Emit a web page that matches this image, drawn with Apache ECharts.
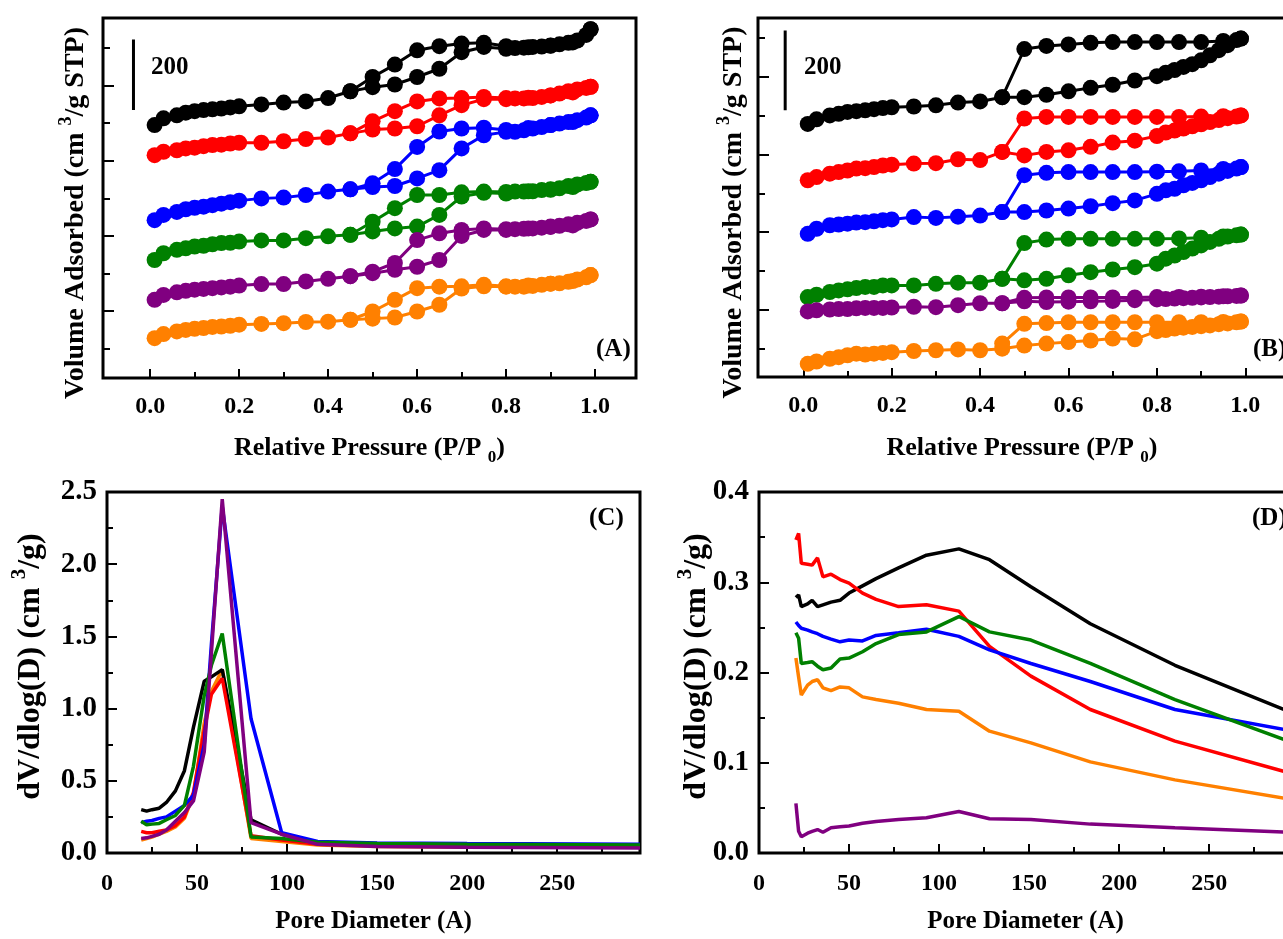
<!DOCTYPE html>
<html>
<head>
<meta charset="utf-8">
<script src="https://cdn.jsdelivr.net/npm/echarts@6/dist/echarts.min.js"></script>
<style>
html, body { margin: 0; padding: 0; background: #fff; }
#chart { width: 1283px; height: 939px; }
</style>
</head>
<body>
<div id="chart"></div>
<script>
var FONT = '"Liberation Serif", "Times New Roman", serif';
// sample order: black, red, blue, green, purple, orange
var COLORS = ['#000000', '#ff0000', '#0000ff', '#008000', '#800080', '#ff8000'];
var NAMES = ['S1', 'S2', 'S3', 'S4', 'S5', 'S6'];

// relative pressure of the isotherm points
var P_ADS = [0.01, 0.03, 0.06, 0.08, 0.10, 0.12, 0.14, 0.16, 0.18, 0.20, 0.25, 0.30, 0.35, 0.40,
  0.45, 0.50, 0.55, 0.60, 0.65, 0.70, 0.75, 0.80, 0.82, 0.84, 0.86, 0.88, 0.90, 0.92, 0.94, 0.96, 0.98, 0.99];
var P_DES = [0.99, 0.95, 0.90, 0.85, 0.80, 0.75, 0.70, 0.65, 0.60, 0.55, 0.50, 0.45];

// panel A, volume adsorbed (curves shifted for display)
var A_ADS = [
  [595, 613, 621, 628, 632, 635, 637, 639, 642, 645, 650, 655, 658, 667, 685, 696, 703, 723, 745, 789, 803, 798, 800, 801, 803, 804, 807, 810, 814, 820, 835, 850],
  [515, 524, 528, 533, 535, 539, 542, 543, 546, 548, 548, 552, 558, 562, 573, 583, 586, 592, 621, 648, 664, 664, 666, 666, 667, 670, 674, 679, 685, 690, 694, 697],
  [342, 356, 364, 371, 375, 378, 382, 386, 390, 394, 400, 402, 409, 418, 424, 430, 433, 453, 475, 533, 568, 577, 577, 581, 586, 590, 595, 599, 603, 608, 615, 621],
  [236, 254, 263, 267, 272, 274, 278, 281, 282, 285, 288, 288, 294, 299, 303, 312, 320, 325, 356, 405, 415, 413, 418, 418, 419, 422, 424, 427, 433, 437, 441, 444],
  [130, 143, 150, 154, 157, 159, 161, 163, 165, 168, 172, 172, 179, 186, 193, 201, 210, 218, 236, 300, 316, 316, 318, 319, 320, 322, 325, 327, 331, 335, 340, 344],
  [28, 39, 46, 50, 53, 55, 58, 59, 61, 64, 66, 68, 71, 72, 77, 80, 83, 99, 117, 160, 166, 165, 165, 165, 167, 170, 173, 174, 178, 184, 190, 196]
];
var A_DES = [
  [850, 815, 806, 802, 805, 814, 812, 805, 794, 756, 723, 685],
  [697, 682, 674, 668, 667, 670, 667, 666, 658, 632, 605, 573],
  [621, 603, 595, 587, 582, 588, 586, 578, 537, 478, 440, 424],
  [444, 430, 423, 419, 417, 418, 416, 409, 409, 374, 338, 303],
  [344, 328, 324, 320, 318, 320, 316, 307, 289, 228, 205, 193],
  [196, 180, 173, 168, 166, 170, 166, 165, 161, 130, 99, 77]
];

// panel B
var B_ADS = [
  [579, 591, 601, 605, 610, 612, 614, 617, 620, 622, 624, 627, 634, 637, 648, 648, 654, 663, 672, 680, 691, 702, 711, 718, 726, 733, 743, 756, 769, 782, 795, 799],
  [434, 442, 451, 455, 459, 464, 465, 468, 472, 474, 477, 478, 488, 486, 507, 498, 507, 511, 520, 531, 536, 548, 557, 562, 567, 573, 578, 584, 589, 594, 598, 601],
  [296, 309, 318, 320, 322, 325, 326, 328, 331, 333, 339, 337, 340, 343, 352, 352, 356, 361, 367, 375, 382, 399, 408, 412, 421, 427, 434, 442, 451, 458, 464, 468],
  [133, 139, 146, 150, 153, 156, 159, 159, 163, 163, 163, 167, 170, 170, 180, 176, 180, 189, 197, 204, 210, 219, 232, 240, 249, 258, 266, 275, 283, 289, 292, 294],
  [96, 99, 101, 102, 102, 104, 105, 105, 105, 106, 108, 107, 112, 117, 117, 122, 120, 121, 122, 123, 125, 127, 128, 129, 130, 131, 132, 133, 134, 135, 136, 137],
  [-39, -33, -26, -22, -17, -13, -15, -13, -11, -9, -6, -4, -2, -4, 0, 8, 13, 17, 21, 26, 24, 45, 48, 52, 54, 56, 58, 60, 63, 65, 68, 70]
];
var B_DES = [
  [799, 793, 790, 790, 790, 790, 790, 788, 784, 780, 772, 648],
  [601, 599, 598, 597, 597, 597, 597, 597, 597, 597, 593, 507],
  [468, 463, 459, 457, 456, 455, 455, 455, 455, 453, 447, 352],
  [294, 289, 286, 284, 283, 283, 283, 283, 283, 281, 272, 180],
  [137, 135, 134, 133, 133, 132, 132, 132, 132, 132, 131, 117],
  [70, 69, 68, 68, 68, 68, 68, 68, 68, 66, 64, 13]
];

// 200 cm3/g scale bars: [x, from, to]
var BAR_A = [-0.0375, 635, 823];
var BAR_B = [-0.041, 614, 820];

// panel C, pore size distribution
var C_X = [19, 22, 25, 29, 33, 38, 43, 48, 54, 58, 64, 80, 97, 117, 150, 200, 296];
var C_Y = [
  [0.30, 0.29, 0.30, 0.31, 0.35, 0.43, 0.57, 0.87, 1.19, 1.22, 1.27, 0.23, 0.13, 0.075, 0.06, 0.055, 0.05],
  [0.15, 0.14, 0.14, 0.15, 0.16, 0.19, 0.25, 0.42, 0.85, 1.10, 1.21, 0.12, 0.09, 0.06, 0.05, 0.045, 0.04],
  [0.21, 0.22, 0.225, 0.24, 0.25, 0.29, 0.33, 0.40, 0.75, 1.45, 2.40, 0.93, 0.14, 0.08, 0.07, 0.065, 0.06],
  [0.22, 0.195, 0.20, 0.205, 0.23, 0.26, 0.33, 0.60, 1.09, 1.30, 1.52, 0.11, 0.10, 0.075, 0.065, 0.06, 0.055],
  [0.10, 0.105, 0.115, 0.13, 0.16, 0.22, 0.28, 0.36, 0.70, 1.39, 2.45, 0.21, 0.13, 0.06, 0.045, 0.04, 0.035],
  [0.09, 0.10, 0.11, 0.13, 0.15, 0.18, 0.24, 0.40, 0.90, 1.12, 1.27, 0.10, 0.08, 0.055, 0.045, 0.04, 0.04]
];

// panel D
var D_X = [20.5, 22, 23.5, 27, 29.5, 32.5, 35.5, 40, 45, 50, 57.5, 65, 77.5, 93, 111, 128, 151, 184, 231, 294];
var D_Y = [
  [0.283, 0.286, 0.273, 0.276, 0.280, 0.273, 0.275, 0.278, 0.280, 0.288, 0.296, 0.304, 0.316, 0.330, 0.337, 0.325, 0.295, 0.254, 0.208, 0.157],
  [0.347, 0.354, 0.321, 0.320, 0.319, 0.327, 0.306, 0.309, 0.303, 0.299, 0.288, 0.281, 0.273, 0.275, 0.268, 0.229, 0.196, 0.159, 0.124, 0.089],
  [0.256, 0.252, 0.249, 0.247, 0.245, 0.243, 0.240, 0.237, 0.234, 0.236, 0.235, 0.241, 0.244, 0.248, 0.240, 0.225, 0.210, 0.190, 0.159, 0.136],
  [0.244, 0.238, 0.210, 0.211, 0.212, 0.207, 0.203, 0.205, 0.215, 0.216, 0.223, 0.232, 0.242, 0.245, 0.262, 0.245, 0.236, 0.210, 0.170, 0.124],
  [0.055, 0.024, 0.018, 0.022, 0.024, 0.026, 0.023, 0.028, 0.029, 0.030, 0.033, 0.035, 0.037, 0.039, 0.046, 0.038, 0.037, 0.032, 0.028, 0.023],
  [0.216, 0.195, 0.175, 0.186, 0.190, 0.192, 0.183, 0.180, 0.184, 0.183, 0.173, 0.170, 0.166, 0.159, 0.157, 0.135, 0.122, 0.101, 0.081, 0.060]
];

// tick positions
var ISO_X_MAJOR = [0, 0.2, 0.4, 0.6, 0.8, 1.0];
var ISO_X_MINOR = [0.1, 0.3, 0.5, 0.7, 0.9];
var ISO_Y_MAJOR = [100, 300, 500, 700];
var ISO_Y_MINOR = [0, 200, 400, 600, 800];
var PSD_X_MAJOR = [0, 50, 100, 150, 200, 250];
var PSD_X_MINOR = [25, 75, 125, 175, 225, 275];
var C_Y_MAJOR = [0, 0.5, 1.0, 1.5, 2.0, 2.5];
var C_Y_MINOR = [0.25, 0.75, 1.25, 1.75, 2.25];
var D_Y_MAJOR = [0, 0.1, 0.2, 0.3, 0.4];
var D_Y_MINOR = [0.05, 0.15, 0.25, 0.35];

var myChart = echarts.init(document.getElementById('chart'));

var grids = [
  {left: 103, top: 18, width: 533, height: 360},
  {left: 758, top: 18, width: 528, height: 359},
  {left: 107, top: 492, width: 533, height: 361},
  {left: 759, top: 492, width: 533, height: 361}
];
grids.forEach(function (g) {
  g.show = true;
  g.borderColor = '#000';
  g.borderWidth = 3;
  g.backgroundColor = 'transparent';
  g.outerBoundsMode = 'none';
  g.containLabel = false;
});

function nameStyle(size, pad) {
  var lh = Math.round(size * 1.35);
  var small = Math.round(size * 0.65);
  return {
    fontSize: size, fontWeight: 'bold', fontFamily: FONT, color: '#000', lineHeight: lh,
    padding: pad || 0,
    rich: {
      t: {fontSize: small, lineHeight: lh, verticalAlign: 'top', fontWeight: 'bold', fontFamily: FONT, color: '#000'},
      s: {fontSize: small, lineHeight: lh, verticalAlign: 'bottom', fontWeight: 'bold', fontFamily: FONT, color: '#000'}
    }
  };
}

// one axis with labelled (long) ticks and one overlaid axis for the short ticks
function axisPair(grid, pos, min, max, majors, minors, o) {
  var main = {
    type: 'value', gridIndex: grid, position: pos, min: min, max: max,
    axisLine: {show: false, onZero: false}, splitLine: {show: false},
    axisTick: {show: true, inside: true, length: o.majLen, customValues: majors, lineStyle: {color: '#000', width: 2}},
    axisLabel: {show: !!o.fmt, customValues: majors, formatter: o.fmt, margin: o.margin || 8,
      fontSize: o.labelSize || 24, fontWeight: 'bold', fontFamily: FONT, color: '#000'},
    name: o.name || '', nameLocation: 'middle', nameGap: o.gap || 20, nameMoveOverlap: false,
    nameTextStyle: nameStyle(o.nameSize || 25, o.pad)
  };
  var minor = {
    type: 'value', gridIndex: grid, position: pos, min: min, max: max,
    axisLine: {show: false, onZero: false}, splitLine: {show: false},
    axisTick: {show: true, inside: true, length: o.minLen, customValues: minors, lineStyle: {color: '#000', width: 2}},
    axisLabel: {show: false}
  };
  return [main, minor];
}

var f1 = function (v) { return v.toFixed(1); };
var f0 = function (v) { return String(Math.round(v)); };

var xAxes = [].concat(
  axisPair(0, 'bottom', -0.106, 1.092, ISO_X_MAJOR, ISO_X_MINOR, {majLen: 9, minLen: 6, fmt: f1, margin: 17, name: 'Relative Pressure (P/P {s|0})', gap: 53, nameSize: 26}),
  axisPair(1, 'bottom', -0.1025, 1.092, ISO_X_MAJOR, ISO_X_MINOR, {majLen: 9, minLen: 6, fmt: f1, margin: 17, name: 'Relative Pressure (P/P {s|0})', gap: 54, nameSize: 26}),
  axisPair(2, 'bottom', 0, 296, PSD_X_MAJOR, PSD_X_MINOR, {majLen: 9, minLen: 6, fmt: f0, margin: 19, name: 'Pore Diameter (A)', gap: 52, nameSize: 25}),
  axisPair(3, 'bottom', 0, 296, PSD_X_MAJOR, PSD_X_MINOR, {majLen: 9, minLen: 6, fmt: f0, margin: 19, name: 'Pore Diameter (A)', gap: 52, nameSize: 25})
);
var yAxes = [].concat(
  axisPair(0, 'left', -78, 880, ISO_Y_MAJOR, ISO_Y_MINOR, {majLen: 11, minLen: 7, name: 'Volume Adsorbed (cm {t|3}/g STP)', gap: 8, nameSize: 28, pad: [0, 30, 0, 0]}),
  axisPair(1, 'left', -73, 852, ISO_Y_MAJOR, ISO_Y_MINOR, {majLen: 11, minLen: 7, name: 'Volume Adsorbed (cm {t|3}/g STP)', gap: 5, nameSize: 28, pad: [0, 30, 0, 0]}),
  axisPair(2, 'left', 0, 2.5, C_Y_MAJOR, C_Y_MINOR, {majLen: 10, minLen: 6, fmt: f1, margin: 10, name: 'dV/dlog(D) (cm {t|3}/g)', gap: 55, nameSize: 32, labelSize: 29, pad: [0, 0, 0, 12]}),
  axisPair(3, 'left', 0, 0.4, D_Y_MAJOR, D_Y_MINOR, {majLen: 10, minLen: 6, fmt: f1, margin: 10, name: 'dV/dlog(D) (cm {t|3}/g)', gap: 41, nameSize: 32, labelSize: 29, pad: [0, 0, 0, 12]})
);

var series = [];
function isoBranch(axis, xs, ys, i, tag) {
  series.push({
    name: NAMES[i] + ' ' + tag, type: 'line', xAxisIndex: axis, yAxisIndex: axis,
    data: xs.map(function (p, k) { return [p, ys[k]]; }),
    symbol: 'circle', symbolSize: 16, showSymbol: true,
    lineStyle: {color: COLORS[i], width: 3}, itemStyle: {color: COLORS[i]},
    silent: true, z: 2 + i
  });
}
[[0, A_ADS, A_DES], [2, B_ADS, B_DES]].forEach(function (pan) {
  for (var i = 0; i < 6; i++) {
    isoBranch(pan[0], P_ADS, pan[1][i], i, 'ads');
    isoBranch(pan[0], P_DES, pan[2][i], i, 'des');
  }
});
[[0, BAR_A], [2, BAR_B]].forEach(function (b) {
  series.push({
    name: 'scale', type: 'line', xAxisIndex: b[0], yAxisIndex: b[0],
    data: [[b[1][0], b[1][1]], [b[1][0], b[1][2]]],
    symbol: 'none', lineStyle: {color: '#000', width: 3}, silent: true
  });
});

// draw order in the distribution panels
var C_ORDER = [5, 0, 1, 2, 3, 4];
var D_ORDER = [0, 1, 2, 3, 5, 4];
C_ORDER.forEach(function (i, n) {
  series.push({
    name: NAMES[i] + ' C', type: 'line', xAxisIndex: 4, yAxisIndex: 4,
    data: C_X.map(function (x, k) { return [x, C_Y[i][k]]; }),
    symbol: 'none', lineStyle: {color: COLORS[i], width: 3.5}, silent: true, z: 2 + n
  });
});
D_ORDER.forEach(function (i, n) {
  series.push({
    name: NAMES[i] + ' D', type: 'line', xAxisIndex: 6, yAxisIndex: 6,
    data: D_X.map(function (x, k) { return [x, D_Y[i][k]]; }),
    symbol: 'none', lineStyle: {color: COLORS[i], width: 3.5}, silent: true, z: 2 + n
  });
});

function txt(left, top, s) {
  return {type: 'text', left: left, top: top, z: 100,
    style: {text: s, font: 'bold 25px ' + FONT, fill: '#000'}};
}

var option = {
  animation: false,
  backgroundColor: '#fff',
  grid: grids,
  xAxis: xAxes,
  yAxis: yAxes,
  series: series,
  graphic: [
    txt(151, 55, '200'),
    txt(804, 55, '200'),
    txt(596, 337, '(A)'),
    txt(1253, 337, '(B)'),
    txt(589, 506, '(C)'),
    txt(1252, 506, '(D)')
  ]
};

myChart.setOption(option);

window.addEventListener('resize', function () {
  myChart.resize();
});
</script>
</body>
</html>
